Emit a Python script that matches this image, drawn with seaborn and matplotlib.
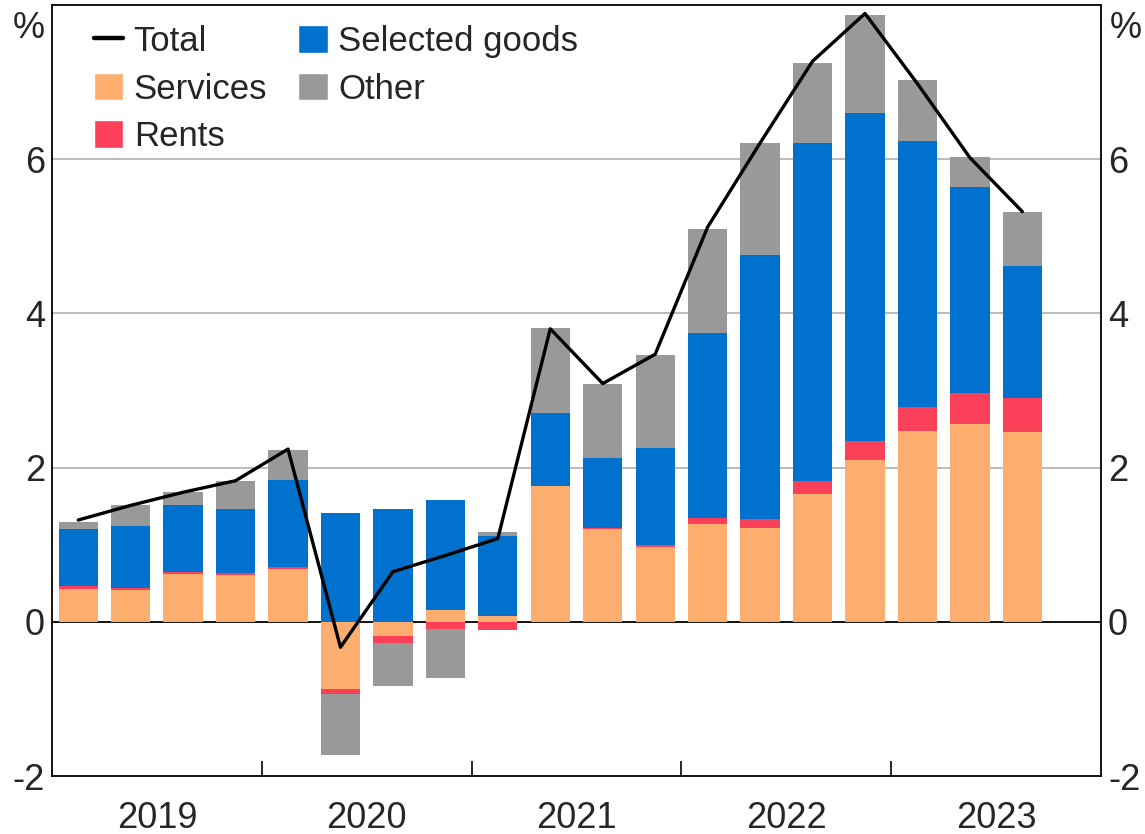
import numpy as np
import pandas as pd
import matplotlib
matplotlib.use("Agg")
import matplotlib.pyplot as plt
import seaborn as sns
from matplotlib.lines import Line2D
from matplotlib.patches import Patch

# ---------------- data (year-ended contributions, ppt) ----------------
quarters = ["2019Q1", "2019Q2", "2019Q3", "2019Q4",
            "2020Q1", "2020Q2", "2020Q3", "2020Q4",
            "2021Q1", "2021Q2", "2021Q3", "2021Q4",
            "2022Q1", "2022Q2", "2022Q3", "2022Q4",
            "2023Q1", "2023Q2", "2023Q3"]
year_labels = ["2019", "2020", "2021", "2022", "2023"]
services = [0.43, 0.41, 0.62, 0.61, 0.69, -0.87, -0.18, 0.15, 0.07, 1.76,
            1.20, 0.97, 1.27, 1.22, 1.66, 2.10, 2.48, 2.57, 2.46]
rents = [0.03, 0.03, 0.02, 0.02, 0.015, -0.07, -0.10, -0.095, -0.10, 0.0,
         0.02, 0.02, 0.07, 0.11, 0.17, 0.24, 0.30, 0.40, 0.44]
goods = [0.75, 0.80, 0.88, 0.83, 1.14, 1.41, 1.46, 1.43, 1.04, 0.95,
         0.90, 1.27, 2.41, 3.43, 4.38, 4.26, 3.46, 2.67, 1.72]
other = [0.09, 0.28, 0.16, 0.36, 0.38, -0.79, -0.55, -0.63, 0.05, 1.10,
         0.96, 1.20, 1.35, 1.45, 1.04, 1.27, 0.79, 0.39, 0.69]
total = [1.32, 1.51, 1.68, 1.83, 2.24, -0.33, 0.65, 0.86, 1.08, 3.80,
         3.09, 3.47, 5.12, 6.21, 7.27, 7.89, 6.98, 6.02, 5.32]
ytick_values = [-2, 0, 2, 4, 6]
ytick_labels = ["-2", "0", "2", "4", "6"]

series_names = ["Services", "Rents", "Selected goods", "Other"]
series_values = [services, rents, goods, other]
colors = {"Services": "#FDAE6F", "Rents": "#FB4159",
          "Selected goods": "#0072CE", "Other": "#999999"}

# ---------------- style ----------------
sns.set_theme(style="white")
plt.rcParams["font.family"] = ["Liberation Sans", "DejaVu Sans"]
plt.rcParams["axes.unicode_minus"] = False

W, H = 1145, 834
fig = plt.figure(figsize=(W / 100, H / 100), dpi=100)
ax = fig.add_axes([52 / W, 58 / H, 1049 / W, 771 / H])

# grid + zero line behind bars
for g in [2, 4, 6]:
    ax.axhline(g, color="#b5b5b5", lw=1.3, zorder=0)
ax.axhline(0, color="black", lw=1.3, zorder=0.5)

# ---------------- stacked bars ----------------
n = len(quarters)
idx = np.arange(n)
pos_cum = np.zeros(n)
neg_cum = np.zeros(n)
for name, vals in zip(series_names, series_values):
    v = np.asarray(vals, dtype=float)
    bottoms = np.where(v >= 0, pos_cum, neg_cum)
    df = pd.DataFrame({"q": idx, "v": v})
    sns.barplot(data=df, x="q", y="v", bottom=bottoms, color=colors[name],
                saturation=1, width=0.75, linewidth=0, ax=ax, zorder=2)
    pos_cum = pos_cum + np.where(v >= 0, v, 0)
    neg_cum = neg_cum + np.where(v < 0, v, 0)

# total line
sns.lineplot(x=idx, y=total, color="black", lw=2.4, ax=ax, zorder=4)

# ---------------- axes ----------------
ax.set_xlim(-0.5, 19.5)
ax.set_ylim(-2, 8)
ax.set_xlabel("")
ax.set_ylabel("")

ax.set_yticks(ytick_values)
ax.set_yticklabels(ytick_labels)
ax.tick_params(axis="y", which="both", left=False, right=False, length=0,
               labelleft=True, labelright=True, labelsize=26, pad=5)

ax.set_xticks([3.5, 7.5, 11.5, 15.5])
ax.set_xticklabels([])
ax.set_xticks([1.5, 5.5, 9.5, 13.5, 17.5], minor=True)
ax.set_xticklabels(year_labels, minor=True)
ax.tick_params(axis="x", which="major", direction="in", length=11,
               width=1.2, color="black", bottom=True)
ax.tick_params(axis="x", which="minor", length=0, labelsize=26, pad=18)

for s in ax.spines.values():
    s.set_visible(True)
    s.set_color("black")
    s.set_linewidth(1.3)

# % unit labels
ax.annotate("%", xy=(0, 8), xycoords=("axes fraction", "data"),
            xytext=(-5, -4), textcoords="offset points",
            ha="right", va="top", fontsize=26)
ax.annotate("%", xy=(1, 8), xycoords=("axes fraction", "data"),
            xytext=(6, -4), textcoords="offset points",
            ha="left", va="top", fontsize=26)

# ---------------- legend ----------------
handles = [
    Line2D([0], [0], color="black", lw=3.2),
    Patch(facecolor=colors["Services"]),
    Patch(facecolor=colors["Rents"]),
    Patch(facecolor=colors["Selected goods"]),
    Patch(facecolor=colors["Other"]),
]
labels = ["Total", "Services", "Rents", "Selected goods", "Other"]
ax.legend(handles, labels, ncol=2, loc="upper left",
          bbox_to_anchor=(0.02, 1.001), frameon=False, fontsize=25,
          handlelength=0.85, handleheight=0.85, handletextpad=0.3,
          labelspacing=0.42, columnspacing=0.9, borderaxespad=0.2)

fig.savefig("out.png", dpi=100)
